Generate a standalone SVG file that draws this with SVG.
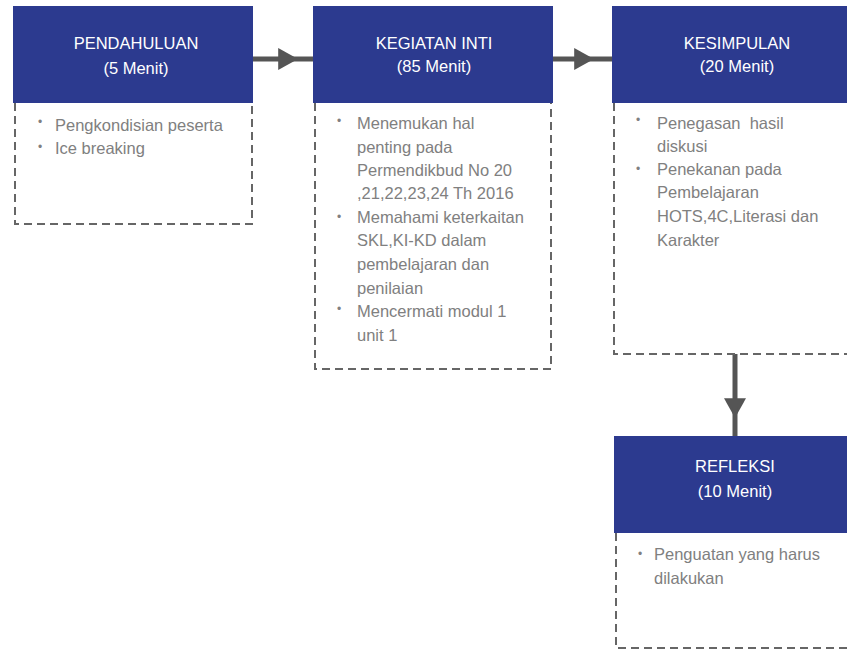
<svg xmlns="http://www.w3.org/2000/svg" width="847" height="650" viewBox="0 0 847 650">
  <defs>
    <style>
      .head { fill: #2c3a8f; }
      .frame { fill: none; stroke: #666; stroke-width: 2; stroke-dasharray: 8 5; }
      .title { font-family: "Liberation Sans", Arial, sans-serif; font-size: 16.5px; fill: #ffffff; text-anchor: middle; }
      .item { font-family: "Liberation Sans", Arial, sans-serif; font-size: 16.5px; fill: #808080; white-space: pre; }
      .dot { font-family: "Liberation Sans", Arial, sans-serif; font-size: 12px; fill: #808080; }
      .link { stroke: #555; stroke-width: 5; fill: none; }
    </style>
    <marker id="tri" viewBox="0 0 10 10" refX="5" refY="5" markerWidth="4.4" markerHeight="4.4" markerUnits="strokeWidth" orient="auto">
      <path d="M1,0 L10,5 L1,10 Z" fill="#555"/>
    </marker>
  </defs>

  <!-- connectors -->
  <g id="connectors">
    <path class="link" d="M253,59 H287" marker-end="url(#tri)"/>
    <path class="link" d="M287,59 H313"/>
    <path class="link" d="M553,59 H583" marker-end="url(#tri)"/>
    <path class="link" d="M583,59 H612"/>
    <path class="link" d="M735,354 V407" marker-end="url(#tri)"/>
    <path class="link" d="M735,407 V436"/>
  </g>

  <!-- step 1 -->
  <g id="pendahuluan">
    <rect class="head" x="13" y="6" width="240" height="97"/>
    <path class="frame" d="M15,103 V224 H252 V103"/>
    <text class="title" x="136" y="49">PENDAHULUAN</text>
    <text class="title" x="136" y="74">(5 Menit)</text>
    <text class="dot" x="38" y="126">•</text>
    <text class="item" x="55" y="131">Pengkondisian peserta</text>
    <text class="dot" x="38" y="151">•</text>
    <text class="item" x="55" y="154">Ice breaking</text>
  </g>

  <!-- step 2 -->
  <g id="kegiatan-inti">
    <rect class="head" x="313" y="6" width="240" height="97"/>
    <path class="frame" d="M315,103 V369 H551 V103"/>
    <text class="title" x="434" y="49">KEGIATAN INTI</text>
    <text class="title" x="434" y="72">(85 Menit)</text>
    <text class="dot" x="337" y="125">•</text>
    <text class="item" x="357" y="129">Menemukan hal</text>
    <text class="item" x="357" y="153">penting pada</text>
    <text class="item" x="357" y="176">Permendikbud No 20</text>
    <text class="item" x="357" y="199">,21,22,23,24 Th 2016</text>
    <text class="dot" x="337" y="221">•</text>
    <text class="item" x="357" y="223">Memahami keterkaitan</text>
    <text class="item" x="357" y="246">SKL,KI-KD dalam</text>
    <text class="item" x="357" y="270">pembelajaran dan</text>
    <text class="item" x="357" y="294">penilaian</text>
    <text class="dot" x="337" y="313">•</text>
    <text class="item" x="357" y="317">Mencermati modul 1</text>
    <text class="item" x="357" y="341">unit 1</text>
  </g>

  <!-- step 3 -->
  <g id="kesimpulan">
    <rect class="head" x="612" y="6" width="240" height="97"/>
    <path class="frame" d="M614,103 V354 H852"/>
    <text class="title" x="737" y="49">KESIMPULAN</text>
    <text class="title" x="737" y="72">(20 Menit)</text>
    <text class="dot" x="636" y="124">•</text>
    <text class="item" x="657" y="129">Penegasan  hasil</text>
    <text class="item" x="657" y="152">diskusi</text>
    <text class="dot" x="636" y="173">•</text>
    <text class="item" x="657" y="175">Penekanan pada</text>
    <text class="item" x="657" y="198">Pembelajaran</text>
    <text class="item" x="657" y="222">HOTS,4C,Literasi dan</text>
    <text class="item" x="657" y="246">Karakter</text>
  </g>

  <!-- step 4 -->
  <g id="refleksi">
    <rect class="head" x="614" y="436" width="240" height="97"/>
    <path class="frame" d="M616,533 V648 H852"/>
    <text class="title" x="735" y="472">REFLEKSI</text>
    <text class="title" x="735" y="497">(10 Menit)</text>
    <text class="dot" x="638" y="558">•</text>
    <text class="item" x="654" y="560">Penguatan yang harus</text>
    <text class="item" x="654" y="584">dilakukan</text>
  </g>
</svg>
